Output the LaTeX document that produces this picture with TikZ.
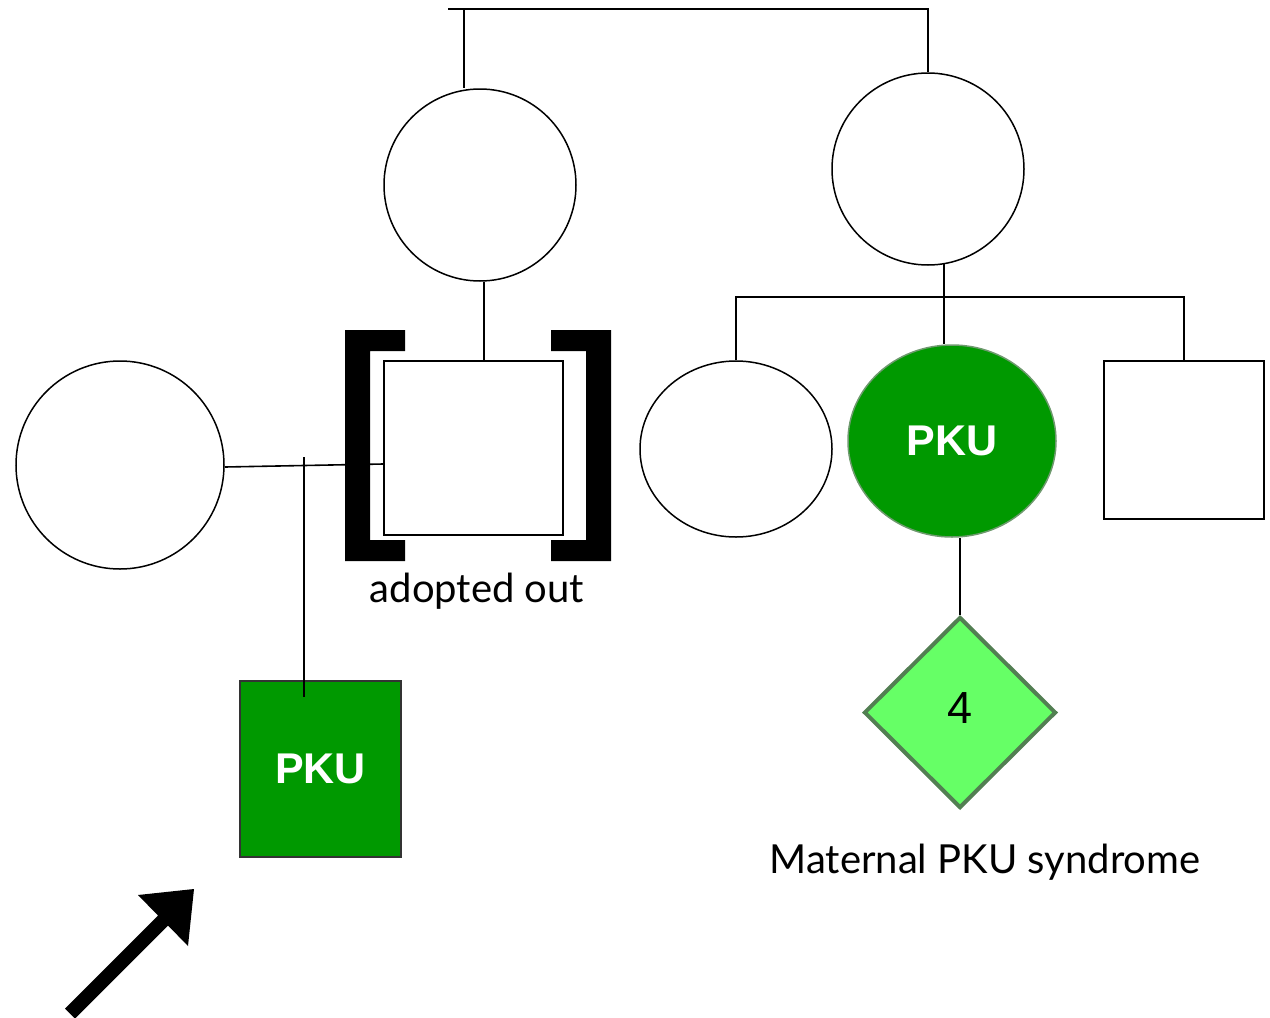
\documentclass[tikz,border=0pt]{standalone}
\usepackage{fontspec}
\setmainfont{Lato}
\newfontfamily\arialfont{Liberation Sans}
\usetikzlibrary{shapes.geometric}
\definecolor{pkugreen}{HTML}{009900}
\definecolor{lightgreen}{HTML}{66FF66}
\definecolor{diamondborder}{HTML}{527F52}
\definecolor{ellborder}{HTML}{6E9A6E}
\begin{document}
\begin{tikzpicture}[x=1pt,y=-1pt,
  conn/.style={line width=1.6pt},
  person/.style={draw, line width=1.5pt, fill=white, inner sep=0pt},
  pkutext/.style={text=white, font=\arialfont\bfseries\fontsize{43}{48}\selectfont},
  labeltext/.style={font=\fontsize{40}{44}\selectfont, inner sep=0pt}]
\useasboundingbox (0,0) rectangle (1270,1018);

% persons
\node[person, circle, minimum size=192pt] (gma) at (480,185) {};
\node[person, circle, minimum size=192pt] (gmb) at (928,169) {};
\node[person, circle, minimum size=208pt] (wife) at (120,465) {};
\node[person, rectangle, minimum width=179pt, minimum height=174pt] (adopted) at (473.5,448) {};
\node[person, ellipse, minimum width=192pt, minimum height=176pt] (sister) at (736,449) {};
\node[person, ellipse, minimum width=208pt, minimum height=192pt, fill=pkugreen, draw=ellborder, pkutext] (pkumom) at (952,441) {PKU};
\node[person, rectangle, minimum width=160pt, minimum height=158pt] (brother) at (1184,440) {};
\node[person, diamond, aspect=1, minimum width=192pt, minimum height=191pt, fill=lightgreen, draw=diamondborder, line width=4pt,
      font=\arialfont\fontsize{45}{50}\selectfont] (kids) at (960,712.5) {\raisebox{8pt}{4}};

% top sibship line
\coordinate (t1) at (448,9);
\coordinate (t2) at (928,9);
\coordinate (d1) at (464,9);
\draw[conn] (t1) -- (t2) -- (gmb.north);
\draw[conn] (d1) -- (d1 |- gma.north);

% grandmother to adopted son
\draw[conn] ([xshift=4pt]gma.south) -- ([xshift=10.5pt]adopted.north);

% marriage line
\draw[conn] ([yshift=-2pt]wife.east) -- ([yshift=-16pt]adopted.west);

% brackets
\fill (345,330) -- (405,330) -- (405,351) -- (370,351) -- (370,540) -- (405,540) -- (405,561) -- (345,561) -- cycle;
\fill (551,330) -- (611,330) -- (611,561) -- (551,561) -- (551,540) -- (586,540) -- (586,351) -- (551,351) -- cycle;

\node[labeltext] (adlabel) at (477,591) {adopted out};

% proband
\node[person, rectangle, minimum width=161pt, minimum height=176pt, fill=pkugreen, draw=black!80, line width=1.3pt, pkutext] (proband) at (320.5,769) {PKU};
\coordinate (m) at (304,457);
\coordinate (pe) at (304,697);
\draw[conn] (m) -- (pe);

% second sibship
\coordinate (s1) at (736,297);
\coordinate (s2) at (1184,297);
\draw[conn] (s1 |- sister.north) -- (s1) -- (s2) -- (brother.north);
\coordinate (g2) at (944,264);
\draw[conn] (g2) -- ([xshift=-8pt]pkumom.north);
\draw[conn] ([xshift=8pt]pkumom.south) -- (kids.north);

\node[labeltext] (mlabel) at (985,862) {Maternal PKU syndrome};

% proband arrow
\fill (194,889) -- (138,895) -- (158,915.5) -- (65,1008.5) -- (75,1018.5) -- (168,925.5) -- (188,946) -- cycle;
\end{tikzpicture}
\end{document}
